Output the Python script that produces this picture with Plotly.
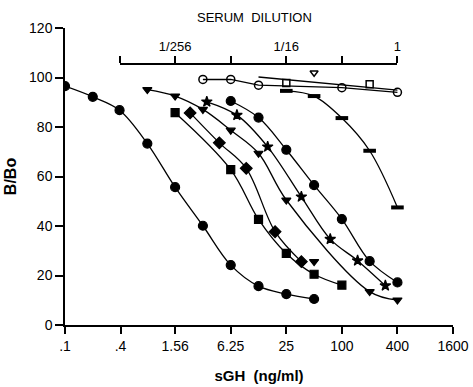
import math
import plotly.graph_objects as go

# ---- data ----
x_tickvals = [0.1, 0.4, 1.56, 6.25, 25, 100, 400, 1600]
x_ticktext = [".1", ".4", "1.56", "6.25", "25", "100", "400", "1600"]
y_tickvals = [0, 20, 40, 60, 80, 100, 120]
dil_tickvals = [1 / 1024, 1 / 256, 1 / 64, 1 / 16, 1 / 4, 1]
dil_ticktext = ["", "1/256", "", "1/16", "", "1"]

std_x = [0.1, 0.2, 0.39, 0.78, 1.56, 3.12, 6.25, 12.5, 25, 50]
std_y = [96.5, 92.2, 86.8, 73.3, 55.7, 40.1, 24.2, 15.7, 12.5, 10.5]

sq_x = [1.56, 6.25, 12.5, 25, 50, 100]
sq_y = [85.8, 62.8, 42.7, 28.9, 20.5, 16.1]

dia_x = [2.27, 4.7, 9.2, 18.9, 36.4]
dia_y = [85.7, 73.6, 63.3, 37.7, 25.6]

tri_x = [0.78, 1.56, 3.12, 6.25, 12.5, 25, 200, 400]
tri_y = [95.1, 92.5, 87.1, 78.7, 69.4, 50.5, 13.5, 10.1]
tri_extra_x = [50]
tri_extra_y = [25.6]

star_x = [3.44, 7.29, 15.7, 36.4, 74.8, 148, 296]
star_y = [90.2, 84.8, 72.0, 51.8, 34.7, 26.0, 15.9]

c2_x = [6.25, 12.5, 25, 50, 100, 200, 400]
c2_y = [90.5, 83.8, 70.8, 56.5, 42.8, 25.8, 17.2]

half_x = [25, 50, 100, 200, 400]
half_y = [94.6, 92.5, 83.6, 70.4, 47.5]

oc_x = [3.12, 6.25, 12.5, 100, 400]
oc_y = [99.2, 99.2, 96.9, 95.9, 94.0]

osq_x = [25, 200]
osq_y = [97.8, 97.3]
osq_fit_x = [12.5, 400]
osq_fit_y = [100.2, 94.9]

ohalf_x = [50]
ohalf_y = [101.9]

# ---- figure ----
BLACK = "black"
FONT = "Liberation Sans, Arial, sans-serif"
fig = go.Figure()


def curve(x, y, symbol, size=9, shape="spline", line=True):
    fig.add_trace(go.Scatter(
        x=x, y=y, mode="lines+markers" if line else "markers",
        line=dict(color=BLACK, width=1.3, shape=shape, smoothing=1.0),
        marker=dict(symbol=symbol, size=size, color=BLACK,
                    line=dict(color=BLACK, width=1.2)),
        showlegend=False, hoverinfo="x+y"))


curve(std_x, std_y, "circle", 9)
curve(sq_x, sq_y, "square", 8)
curve(dia_x, dia_y, "diamond", 9)
curve(tri_x, tri_y, "triangle-down", 8)
curve(tri_extra_x, tri_extra_y, "triangle-down", 8, line=False)
curve(star_x, star_y, "star", 8)
curve(c2_x, c2_y, "circle", 9)
fig.add_trace(go.Scatter(
    x=half_x, y=half_y, mode="lines+markers",
    line=dict(color=BLACK, width=1.3, shape="spline", smoothing=1.0),
    marker=dict(symbol="line-ew", size=9, color=BLACK,
                line=dict(color=BLACK, width=4)),
    showlegend=False))
fig.add_trace(go.Scatter(
    x=oc_x, y=oc_y, mode="lines+markers",
    line=dict(color=BLACK, width=1.3),
    marker=dict(symbol="circle-open", size=8, color=BLACK,
                line=dict(color=BLACK, width=1.5)),
    showlegend=False))
fig.add_trace(go.Scatter(
    x=osq_fit_x, y=osq_fit_y, mode="lines",
    line=dict(color=BLACK, width=1.3), showlegend=False))
fig.add_trace(go.Scatter(
    x=osq_x, y=osq_y, mode="markers",
    marker=dict(symbol="square-open", size=7, color=BLACK,
                line=dict(color=BLACK, width=1.5)),
    showlegend=False))
fig.add_trace(go.Scatter(
    x=ohalf_x, y=ohalf_y, mode="markers",
    marker=dict(symbol="triangle-down-open", size=7, color=BLACK,
                line=dict(color=BLACK, width=1.4)),
    showlegend=False))
# carrier for the top (serum dilution) axis
fig.add_trace(go.Scatter(x=[dil_tickvals[-1]], y=[None], xaxis="x2", yaxis="y",
                         mode="markers", showlegend=False, hoverinfo="skip"))

W, H = 473, 387
ml, mr, mt, mb = 65, 20, 28, 62
plot_w = W - ml - mr
plot_h = H - mt - mb
xr = [math.log10(0.1), math.log10(1600)]


def xfrac(v):
    return (math.log10(v) - xr[0]) / (xr[1] - xr[0])


axis_common = dict(showgrid=False, zeroline=False, showline=True,
                   linecolor=BLACK, linewidth=1.5, ticks="outside",
                   tickcolor=BLACK, tickwidth=1.5, automargin=False,
                   tickfont=dict(family=FONT, size=14, color=BLACK))

fig.update_layout(
    width=W, height=H,
    margin=dict(l=ml, r=mr, t=mt, b=mb),
    paper_bgcolor="white", plot_bgcolor="rgba(0,0,0,0)",
    showlegend=False,
    font=dict(family=FONT, color=BLACK),
    xaxis=dict(type="log", range=xr, tickvals=x_tickvals, ticktext=x_ticktext,
               ticklen=7,
               title=dict(text="<b>sGH  (ng/ml)</b>", standoff=18,
                          font=dict(family=FONT, size=15, color=BLACK)),
               **axis_common),
    yaxis=dict(range=[0, 120], tickvals=y_tickvals, ticklen=8,
               title=dict(text="<b>B/Bo</b>", standoff=8,
                          font=dict(family=FONT, size=16, color=BLACK)),
               **axis_common),
    xaxis2=dict(type="log", domain=[xfrac(0.39), xfrac(400)],
                range=[math.log10(dil_tickvals[0]), math.log10(dil_tickvals[-1])],
                anchor="free", position=(325 - 64) / plot_h, side="top",
                tickvals=dil_tickvals, ticktext=dil_ticktext, ticklen=7,
                **{k: v for k, v in axis_common.items() if k != "tickfont"},
                tickfont=dict(family=FONT, size=13, color=BLACK)),
    annotations=[dict(text="SERUM  DILUTION", x=(254.5 - ml) / plot_w,
                      y=(H - mb - 17) / plot_h, xref="paper", yref="paper",
                      showarrow=False, xanchor="center", yanchor="middle",
                      font=dict(family=FONT, size=13, color=BLACK))],
)

fig.write_html("out.html",
               config={"displayModeBar": False},
               post_script="document.body.style.margin='0';"
                           "document.body.style.overflow='hidden';")
